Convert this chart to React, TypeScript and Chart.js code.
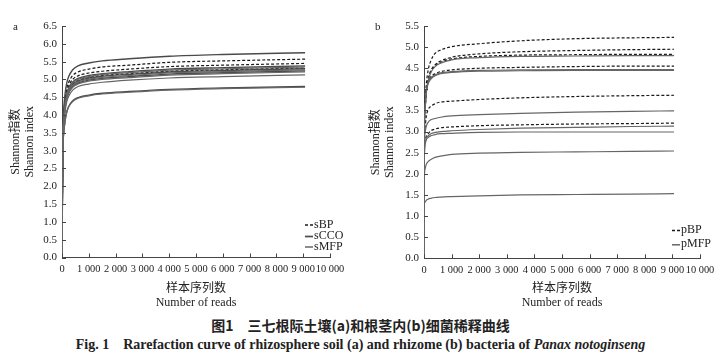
import React, { useEffect, useRef } from "react";
import { Chart, registerables } from "chart.js";

Chart.register(...registerables);

// ---------- data ----------
const READS_A = [0, 30, 70, 120, 180, 250, 400, 600, 1000, 1500, 2500, 4000, 6000, 9070];
const SBP = [
  [0, 3.34, 4.09, 4.48, 4.76, 4.92, 5.11, 5.21, 5.29, 5.35, 5.40, 5.48, 5.52, 5.57],
  [0, 3.27, 4.01, 4.39, 4.65, 4.82, 5.00, 5.10, 5.18, 5.23, 5.29, 5.36, 5.40, 5.45],
  [0, 3.19, 3.91, 4.28, 4.54, 4.70, 4.88, 4.97, 5.05, 5.11, 5.16, 5.23, 5.27, 5.32],
];
const SCCO = [
  [0, 3.45, 4.23, 4.63, 4.91, 5.08, 5.27, 5.38, 5.46, 5.52, 5.58, 5.65, 5.70, 5.75],
  [0, 3.23, 3.95, 4.33, 4.59, 4.76, 4.93, 5.03, 5.11, 5.16, 5.22, 5.29, 5.33, 5.38],
  [0, 3.18, 3.90, 4.27, 4.53, 4.69, 4.86, 4.96, 5.04, 5.09, 5.14, 5.21, 5.25, 5.30],
  [0, 3.14, 3.85, 4.22, 4.47, 4.63, 4.81, 4.90, 4.98, 5.03, 5.08, 5.15, 5.19, 5.24],
  [0, 2.88, 3.53, 3.86, 4.10, 4.24, 4.40, 4.49, 4.56, 4.61, 4.66, 4.72, 4.76, 4.80],
];
const SMFP = [
  [0, 3.21, 3.93, 4.31, 4.57, 4.73, 4.91, 5.00, 5.08, 5.14, 5.19, 5.26, 5.30, 5.35],
  [0, 3.16, 3.87, 4.24, 4.50, 4.66, 4.83, 4.93, 5.01, 5.06, 5.11, 5.18, 5.22, 5.27],
  [0, 3.13, 3.83, 4.19, 4.45, 4.61, 4.78, 4.87, 4.95, 5.00, 5.05, 5.12, 5.16, 5.21],
  [0, 3.08, 3.77, 4.13, 4.38, 4.53, 4.70, 4.80, 4.87, 4.92, 4.98, 5.04, 5.08, 5.13],
  [0, 2.87, 3.51, 3.85, 4.08, 4.23, 4.38, 4.47, 4.54, 4.59, 4.64, 4.70, 4.74, 4.78],
];

const READS_B = [0, 10, 40, 80, 150, 250, 400, 600, 1000, 2000, 3500, 5500, 7500, 9060];
const PBP = [
  [0, 2.90, 3.70, 4.10, 4.45, 4.68, 4.85, 4.93, 5.01, 5.08, 5.15, 5.20, 5.22, 5.23],
  [0, 2.80, 3.55, 3.95, 4.25, 4.45, 4.58, 4.67, 4.76, 4.84, 4.89, 4.92, 4.94, 4.95],
  [0, 2.80, 3.50, 3.90, 4.20, 4.42, 4.55, 4.64, 4.72, 4.78, 4.81, 4.82, 4.83, 4.83],
  [0, 2.70, 3.60, 3.95, 4.18, 4.30, 4.37, 4.42, 4.46, 4.50, 4.52, 4.54, 4.55, 4.55],
  [0, 2.50, 3.10, 3.35, 3.52, 3.60, 3.66, 3.70, 3.72, 3.76, 3.80, 3.83, 3.85, 3.86],
  [0, 2.30, 2.78, 2.88, 2.95, 3.02, 3.06, 3.09, 3.11, 3.14, 3.16, 3.18, 3.19, 3.20],
];
const PMFP = [
  [0, 2.75, 3.50, 3.90, 4.20, 4.40, 4.54, 4.62, 4.70, 4.75, 4.78, 4.79, 4.80, 4.80],
  [0, 2.70, 3.60, 3.95, 4.16, 4.27, 4.34, 4.39, 4.42, 4.45, 4.46, 4.47, 4.47, 4.47],
  [0, 2.65, 3.55, 3.90, 4.13, 4.24, 4.32, 4.37, 4.40, 4.43, 4.44, 4.45, 4.45, 4.45],
  [0, 2.40, 2.98, 3.12, 3.22, 3.28, 3.31, 3.34, 3.37, 3.40, 3.43, 3.46, 3.48, 3.49],
  [0, 2.30, 2.72, 2.84, 2.90, 2.95, 2.98, 3.00, 3.02, 3.05, 3.08, 3.10, 3.12, 3.13],
  [0, 2.25, 2.70, 2.80, 2.86, 2.90, 2.93, 2.95, 2.96, 2.98, 2.99, 2.99, 2.99, 2.99],
  [0, 1.80, 2.12, 2.22, 2.29, 2.34, 2.39, 2.42, 2.46, 2.49, 2.51, 2.52, 2.53, 2.54],
  [0, 1.26, 1.33, 1.37, 1.40, 1.42, 1.44, 1.45, 1.46, 1.48, 1.50, 1.51, 1.52, 1.53],
];

const X_MAX = 10000;
const X_STEP = 1000;
const Y_MAX_A = 6.5;
const Y_MAX_B = 5.5;
const Y_STEP = 0.5;
const LEGEND_A = ["sBP", "sCCO", "sMFP"];
const LEGEND_B = ["pBP", "pMFP"];
const Y_TITLE = ["Shannon指数", "Shannon index"];
const X_TITLE = ["样本序列数", "Number of reads"];

// ---------- styles ----------
const SERIF = '"Liberation Serif", "DejaVu Serif", "Noto Sans CJK SC", serif';
const TEXT = "#222";
const AXIS = "#444";
const DASH_COLOR = "#1a1a1a";
const SOLID_DARK = "#4a4a4a";
const SOLID_LIGHT = "#666666";

type Style = { color: string; width: number; dash: number[] };
const STYLE_DASH: Style = { color: DASH_COLOR, width: 1.2, dash: [3, 2] };
const STYLE_DARK: Style = { color: SOLID_DARK, width: 1.4, dash: [] };
const STYLE_LIGHT: Style = { color: SOLID_LIGHT, width: 1.2, dash: [] };

function buildDatasets(reads: number[], groups: { series: number[][]; style: Style }[]) {
  const out: any[] = [];
  groups.forEach((g) => {
    g.series.forEach((s) => {
      out.push({
        data: s.map((v, i) => ({ x: reads[i], y: v })),
        borderColor: g.style.color,
        borderWidth: g.style.width,
        borderDash: g.style.dash,
        pointRadius: 0,
        fill: false,
        cubicInterpolationMode: "monotone",
      });
    });
  });
  return out;
}

const fmtX = (v: number) => String(v).replace(/\B(?=(\d{3})+(?!\d))/g, " ");

const inwardTicks = {
  id: "inwardTicks",
  afterDraw(chart: any) {
    const { ctx, chartArea: a } = chart;
    const x = chart.scales.x;
    const y = chart.scales.y;
    ctx.save();
    ctx.strokeStyle = AXIS;
    ctx.lineWidth = 1;
    x.ticks.forEach((t: any) => {
      const px = Math.round(x.getPixelForValue(t.value)) + 0.5;
      ctx.beginPath();
      ctx.moveTo(px, a.bottom);
      ctx.lineTo(px, a.bottom - 4);
      ctx.stroke();
    });
    y.ticks.forEach((t: any) => {
      const py = Math.round(y.getPixelForValue(t.value)) + 0.5;
      ctx.beginPath();
      ctx.moveTo(a.left, py);
      ctx.lineTo(a.left + 4, py);
      ctx.stroke();
    });
    ctx.restore();
  },
};

function legendPlugin(labels: string[], styles: Style[], dx: number, rowsFromBottom: number[]) {
  return {
    id: "customLegend",
    afterDraw(chart: any) {
      const { ctx, chartArea: a } = chart;
      ctx.save();
      ctx.font = `12px ${SERIF}`;
      ctx.fillStyle = TEXT;
      ctx.textBaseline = "middle";
      labels.forEach((lab, i) => {
        const yy = a.bottom - rowsFromBottom[i];
        const x0 = a.right + dx;
        const st = styles[i];
        ctx.strokeStyle = st.color;
        ctx.lineWidth = st.width + 0.3;
        ctx.setLineDash(st.dash.length ? [3, 2] : []);
        ctx.beginPath();
        ctx.moveTo(x0, yy + 0.5);
        ctx.lineTo(x0 + 8, yy + 0.5);
        ctx.stroke();
        ctx.setLineDash([]);
        ctx.fillText(lab, x0 + 9, yy);
      });
      ctx.restore();
    },
  };
}

function makeConfig(
  datasets: any[],
  yMax: number,
  yAxisWidth: number,
  rightPad: number,
  xAxisHeight: number,
  legend: any
): any {
  return {
    type: "line",
    data: { datasets },
    options: {
      responsive: false,
      animation: false,
      devicePixelRatio: 1,
      layout: { padding: { left: 0, top: 26, right: rightPad, bottom: 0 } },
      plugins: { legend: { display: false }, tooltip: { enabled: false } },
      elements: { point: { radius: 0 } },
      scales: {
        x: {
          type: "linear",
          min: 0,
          max: X_MAX,
          grid: { display: false, drawTicks: false },
          border: { display: true, color: AXIS, width: 1 },
          ticks: {
            stepSize: X_STEP,
            autoSkip: false,
            maxRotation: 0,
            padding: 6,
            color: TEXT,
            font: { family: SERIF, size: 10.4 },
            callback: (v: number) => fmtX(v),
          },
          title: {
            display: true,
            text: X_TITLE,
            color: TEXT,
            font: { family: SERIF, size: 12, lineHeight: 1.2 },
            padding: { top: 0, bottom: 1.8 },
          },
          afterFit: (s: any) => {
            s.height = xAxisHeight;
          },
        },
        y: {
          type: "linear",
          min: 0,
          max: yMax,
          grid: { display: false, drawTicks: false },
          border: { display: true, color: AXIS, width: 1 },
          ticks: {
            stepSize: Y_STEP,
            padding: 5,
            color: TEXT,
            font: { family: SERIF, size: 11 },
            callback: (v: number) => Number(v).toFixed(1),
          },
          title: {
            display: true,
            text: Y_TITLE,
            color: TEXT,
            font: { family: SERIF, size: 12, lineHeight: 1.2 },
            padding: { top: 8.3, bottom: 0 },
          },
          afterFit: (s: any) => {
            s.width = yAxisWidth;
          },
        },
      },
    },
    plugins: [inwardTicks, legend],
  };
}

export default function App() {
  const refA = useRef<HTMLCanvasElement | null>(null);
  const refB = useRef<HTMLCanvasElement | null>(null);

  useEffect(() => {
    const dsA = buildDatasets(READS_A, [
      { series: SMFP, style: STYLE_LIGHT },
      { series: SCCO, style: STYLE_DARK },
      { series: SBP, style: STYLE_DASH },
    ]);
    const dsB = buildDatasets(READS_B, [
      { series: PMFP, style: STYLE_LIGHT },
      { series: PBP, style: STYLE_DASH },
    ]);
    const chartA = new Chart(
      refA.current as HTMLCanvasElement,
      makeConfig(
        dsA,
        Y_MAX_A,
        62,
        30,
        312 - 257.5,
        legendPlugin(LEGEND_A, [STYLE_DASH, STYLE_DARK, STYLE_LIGHT], -25, [33, 21.5, 11])
      )
    );
    const chartB = new Chart(
      refB.current as HTMLCanvasElement,
      makeConfig(
        dsB,
        Y_MAX_B,
        64,
        21,
        312 - 258.3,
        legendPlugin(LEGEND_B, [STYLE_DASH, STYLE_LIGHT], -28, [28.3, 14])
      )
    );
    return () => {
      chartA.destroy();
      chartB.destroy();
    };
  }, []);

  return (
    <div
      style={{
        position: "fixed",
        left: 0,
        top: 0,
        width: 721,
        height: 359,
        background: "#fff",
        overflow: "hidden",
        color: TEXT,
      }}
    >
      <canvas
        ref={refA}
        width={360}
        height={312}
        style={{ position: "absolute", left: 0, top: 0, width: 360, height: 312 }}
      />
      <canvas
        ref={refB}
        width={361}
        height={312}
        style={{ position: "absolute", left: 360, top: 0, width: 361, height: 312 }}
      />
      <div style={{ position: "absolute", left: 13, top: 20, font: `11px ${SERIF}` }}>a</div>
      <div style={{ position: "absolute", left: 375, top: 20, font: `11px ${SERIF}` }}>b</div>
      <div
        style={{
          position: "absolute",
          left: 0,
          top: 315,
          width: 721,
          lineHeight: "20px",
          textAlign: "center",
          font: `bold 14px "Noto Sans CJK SC", sans-serif`,
          whiteSpace: "pre",
        }}
      >
        图1　三七根际土壤(a)和根茎内(b)细菌稀释曲线
      </div>
      <div
        style={{
          position: "absolute",
          left: 0,
          top: 337,
          width: 721,
          lineHeight: "18px",
          textAlign: "center",
          font: `bold 14px ${SERIF}`,
          whiteSpace: "pre",
        }}
      >
        {"Fig. 1    Rarefaction curve of rhizosphere soil (a) and rhizome (b) bacteria of "}
        <i>Panax notoginseng</i>
      </div>
    </div>
  );
}
